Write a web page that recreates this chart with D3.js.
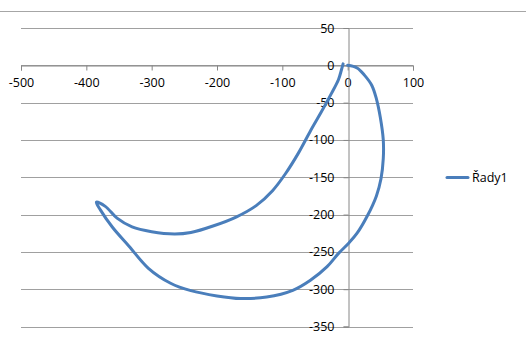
<!DOCTYPE html>
<html>
<head>
<meta charset="utf-8">
<script src="https://cdn.jsdelivr.net/npm/d3@7"></script>
<style>
  html, body { margin: 0; padding: 0; background: #fff; }
  svg { display: block; }
  text { font-family: "Open Sans", "Liberation Sans", sans-serif; fill: #000; }
</style>
</head>
<body>
<script>
// ---- data ----
const seriesName = "Řady1";
const xValues = [0, 14.4, 26, 37, 44, 50, 54.5, 54.5, 51, 44, 30, 14.4, 1.5, -14, -31.5, -57, -84, -124, -164, -200, -240, -271, -305, -335, -360, -378.5, -384.7, -371, -353, -330, -300, -265, -240, -205, -170, -140, -115, -95, -75, -57, -40, -25, -14, -9.5, -7];
const yValues = [0, -3.5, -13.5, -27, -45, -70, -100, -125, -152, -175, -202, -225, -238.4, -252, -269.8, -288, -301.5, -310.5, -312.5, -309, -302, -292, -272, -242, -217, -193.7, -183.4, -189, -204.8, -216.5, -223, -226, -224, -215, -203, -188, -168, -145, -117, -88, -62, -38, -19, -6, 1.9];
const xTicks = [-500, -400, -300, -200, -100, 0, 100];
const yTicks = [50, 0, -50, -100, -150, -200, -250, -300, -350];

// ---- drawing ----
const W = 526, H = 340;
const svg = d3.select("body").append("svg").attr("width", W).attr("height", H);

const x = d3.scaleLinear().domain([-500, 100]).range([21, 413]);
const y = d3.scaleLinear().domain([-350, 50]).range([326.5, 28]);
const fmt = d => String(d); // plain hyphen-minus like the original

// outer border (top edge visible)
svg.append("line").attr("x1", 0).attr("x2", W).attr("y1", 11.5).attr("y2", 11.5)
  .attr("stroke", "#a6a6a6").attr("stroke-width", 1);

// horizontal gridlines
svg.append("g").selectAll("line").data(yTicks).join("line")
  .attr("x1", x(-500)).attr("x2", x(100))
  .attr("y1", d => Math.round(y(d)) + 0.5).attr("y2", d => Math.round(y(d)) + 0.5)
  .attr("stroke", "#a0a0a0").attr("stroke-width", 1);

// x axis at y=0
const xAxis = d3.axisBottom(x).tickValues(xTicks).tickSize(5).tickPadding(8).tickFormat(fmt);
const gx = svg.append("g").attr("transform", `translate(0,${Math.round(y(0)) + 0.5})`).call(xAxis);
gx.select(".domain").attr("stroke", "#868686");
gx.selectAll(".tick line").attr("stroke", "#868686");
gx.selectAll(".tick text").attr("font-size", 12.5).attr("font-family", "'Open Sans', sans-serif").attr("fill", "#000");

// y axis at x=0
const yAxis = d3.axisLeft(y).tickValues(yTicks).tickSize(5).tickPadding(9).tickFormat(fmt);
const gy = svg.append("g").attr("transform", `translate(${Math.round(x(0)) + 0.5},0)`).call(yAxis);
gy.select(".domain").attr("stroke", "#868686");
gy.selectAll(".tick line").attr("stroke", "#868686");
gy.selectAll(".tick text").attr("font-size", 12.5).attr("font-family", "'Open Sans', sans-serif").attr("fill", "#000");

// series line
const pts = xValues.map((v, i) => [v, yValues[i]]);
const line = d3.line().x(d => x(d[0])).y(d => y(d[1])).curve(d3.curveCatmullRom.alpha(0.5));
svg.append("path").datum(pts).attr("d", line)
  .attr("fill", "none").attr("stroke", "#4a7ebb").attr("stroke-width", 3)
  .attr("stroke-linejoin", "round").attr("stroke-linecap", "round");

// legend
const ly = 177.5;
svg.append("line").attr("x1", 447).attr("x2", 468).attr("y1", ly).attr("y2", ly)
  .attr("stroke", "#4a7ebb").attr("stroke-width", 3).attr("stroke-linecap", "round");
svg.append("text").attr("x", 472).attr("y", ly).attr("dy", "0.35em")
  .attr("font-size", 12.5).text(seriesName);
</script>
</body>
</html>
